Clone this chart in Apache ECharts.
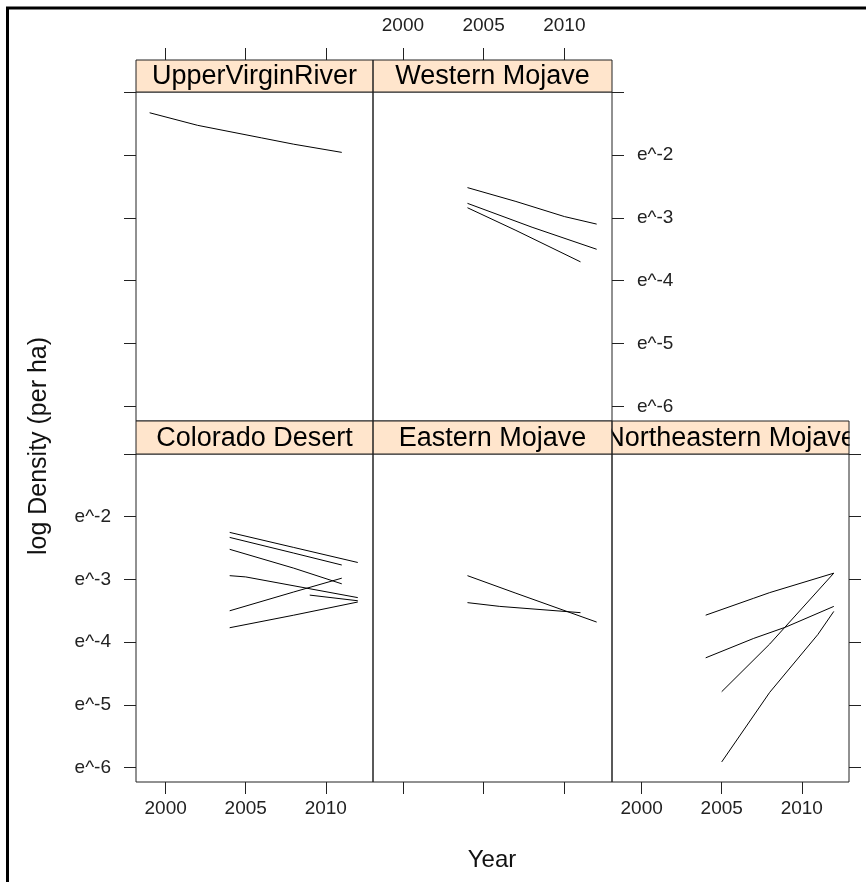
<!DOCTYPE html>
<html>
<head>
<meta charset="utf-8">
<script src="https://cdn.jsdelivr.net/npm/echarts@6/dist/echarts.min.js"></script>
<style>
html,body{margin:0;padding:0;background:#fff;}
#chart{width:866px;height:882px;}
</style>
</head>
<body>
<div id="chart"></div>
<script>
// ---- data ----
const panelNames = ['UpperVirginRiver', 'Western Mojave', 'Colorado Desert', 'Eastern Mojave', 'Northeastern Mojave'];
const xTicks = [2000, 2005, 2010];
const yTicks = [-6, -5, -4, -3, -2, -1];
const yLabels = [-6, -5, -4, -3, -2];

// Upper Virgin River
const uvr1 = [[1999, -1.33], [2002, -1.53], [2006, -1.73], [2008, -1.83], [2011, -1.96]];
// Western Mojave
const wm1 = [[2004, -2.52], [2007, -2.74], [2010, -2.98], [2012, -3.10]];
const wm2 = [[2004, -2.77], [2008, -3.15], [2012, -3.50]];
const wm3 = [[2004, -2.84], [2007, -3.20], [2011, -3.70]];
// Colorado Desert
const cd1 = [[2004, -2.25], [2008, -2.49], [2012, -2.73]];
const cd2 = [[2004, -2.33], [2008, -2.58], [2011, -2.77]];
const cd3 = [[2004, -2.52], [2008, -2.82], [2011, -3.07]];
const cd4 = [[2004, -2.94], [2005, -2.96], [2012, -3.29]];
const cd5 = [[2004, -3.50], [2008, -3.20], [2011, -2.98]];
const cd6 = [[2004, -3.77], [2008, -3.57], [2012, -3.36]];
const cd7 = [[2009, -3.25], [2012, -3.34]];
// Eastern Mojave
const em1 = [[2004, -2.94], [2007, -3.22], [2012, -3.68]];
const em2 = [[2004, -3.37], [2006, -3.43], [2011, -3.53]];
// Northeastern Mojave
const ne1 = [[2004, -3.57], [2007, -3.30], [2008, -3.21], [2012, -2.90]];
const ne2 = [[2004, -4.25], [2007, -3.94], [2009, -3.76], [2012, -3.43]];
const ne3 = [[2005, -4.79], [2008, -4.03], [2012, -2.90]];
const ne4 = [[2005, -5.91], [2008, -4.80], [2011, -3.88], [2012, -3.51]];

const panelSeries = [[uvr1], [wm1, wm2, wm3], [cd1, cd2, cd3, cd4, cd5, cd6, cd7], [em1, em2], [ne1, ne2, ne3, ne4]];

// ---- layout ----
const FONT = '"Liberation Sans", Arial, sans-serif';
const colL = [136, 373, 612];
const colR = [373, 612, 849];
const rowTop = [92, 454];
const rowBot = [421, 782];
const stripTop = [60, 421];
const XMIN = 1998.15, XMAX = 2012.95, YMIN = -6.23, YMAX = -1;
const panels = [
  {c: 0, r: 0, xPos: 'top', xLab: false, yPos: 'left', yLab: false, yShow: true},
  {c: 1, r: 0, xPos: 'top', xLab: true, yPos: 'right', yLab: true, yShow: true},
  {c: 0, r: 1, xPos: 'bottom', xLab: true, yPos: 'left', yLab: true, yShow: true},
  {c: 1, r: 1, xPos: 'bottom', xLab: false, yPos: 'left', yLab: false, yShow: false},
  {c: 2, r: 1, xPos: 'bottom', xLab: true, yPos: 'right', yLab: false, yShow: true}
];

const grids = [], xAxes = [], yAxes = [], series = [], graphics = [];
panels.forEach((p, i) => {
  grids.push({
    left: colL[p.c], top: rowTop[p.r], width: colR[p.c] - colL[p.c], height: rowBot[p.r] - rowTop[p.r],
    show: true, borderColor: '#222', borderWidth: 1, backgroundColor: 'transparent', containLabel: false
  });
  xAxes.push({
    gridIndex: i, type: 'value', min: XMIN, max: XMAX, position: p.xPos,
    offset: p.xPos === 'top' ? (rowTop[p.r] - stripTop[p.r]) : 0,
    axisLine: {show: false},
    axisTick: {show: true, length: 12, customValues: xTicks, lineStyle: {color: '#222', width: 1}},
    axisLabel: {show: p.xLab, customValues: xTicks, margin: p.xPos === 'top' ? 25 : 17, fontSize: 19, fontFamily: FONT, color: '#222',
      formatter: v => String(v)},
    splitLine: {show: false}
  });
  yAxes.push({
    gridIndex: i, type: 'value', min: YMIN, max: YMAX, position: p.yPos,
    axisLine: {show: false},
    axisTick: {show: p.yShow, length: 12, customValues: yTicks, lineStyle: {color: '#222', width: 1}},
    axisLabel: {show: p.yLab, customValues: yLabels, margin: 25, fontSize: 19, fontFamily: FONT, color: '#222',
      formatter: v => 'e^' + v},
    splitLine: {show: false}
  });
  panelSeries[i].forEach(d => {
    series.push({
      type: 'line', xAxisIndex: i, yAxisIndex: i, data: d, showSymbol: false, symbol: 'none',
      lineStyle: {color: '#000', width: 1}, silent: true, animation: false
    });
  });
  const sx = colL[p.c], sw = colR[p.c] - colL[p.c], sy = stripTop[p.r], sh = rowTop[p.r] - stripTop[p.r];
  graphics.push({
    type: 'rect', shape: {x: sx, y: sy, width: sw, height: sh},
    style: {fill: '#FFE5CC', stroke: 'none'}, z: 1
  });
  graphics.push({
    type: 'text', x: sx + sw / 2, y: sy + sh / 2 + 1, z: 2,
    style: {text: panelNames[i], font: '27px ' + FONT, fill: '#000',
      textAlign: 'center', textVerticalAlign: 'middle', align: 'center', verticalAlign: 'middle'}
  });
});
// clip overflow of the long strip label (Northeastern Mojave)
graphics.push({type: 'rect', shape: {x: 590, y: 421.5, width: 21.5, height: 32}, style: {fill: '#FFE5CC'}, z: 3});
graphics.push({type: 'rect', shape: {x: 849.5, y: 420, width: 17, height: 33.5}, style: {fill: '#fff'}, z: 3});
// strip borders on top
panels.forEach(p => {
  const sx = colL[p.c], sw = colR[p.c] - colL[p.c], sy = stripTop[p.r], sh = rowTop[p.r] - stripTop[p.r];
  graphics.push({
    type: 'rect', shape: {x: sx, y: sy, width: sw, height: sh},
    style: {fill: 'none', stroke: '#222', lineWidth: 1}, z: 4
  });
});

// axis titles
graphics.push({
  type: 'text', x: 492, y: 860, z: 2,
  style: {text: 'Year', font: '24px ' + FONT, fill: '#111', textAlign: 'center', textVerticalAlign: 'middle', align: 'center', verticalAlign: 'middle'}
});
graphics.push({
  type: 'text', x: 39, y: 446, rotation: Math.PI / 2, z: 2,
  style: {text: 'log Density (per ha)', font: '25px ' + FONT, fill: '#111', textAlign: 'center', textVerticalAlign: 'middle', align: 'center', verticalAlign: 'middle'}
});
// outer frame (top and left)
graphics.push({type: 'line', shape: {x1: 6, y1: 8, x2: 866, y2: 8}, style: {stroke: '#000', lineWidth: 3}, z: 5});
graphics.push({type: 'line', shape: {x1: 7.5, y1: 7, x2: 7.5, y2: 882}, style: {stroke: '#000', lineWidth: 3}, z: 5});

const chart = echarts.init(document.getElementById('chart'), null, {renderer: 'canvas'});
chart.setOption({
  animation: false,
  backgroundColor: '#fff',
  grid: grids,
  xAxis: xAxes,
  yAxis: yAxes,
  series: series,
  graphic: graphics
});
</script>
</body>
</html>
